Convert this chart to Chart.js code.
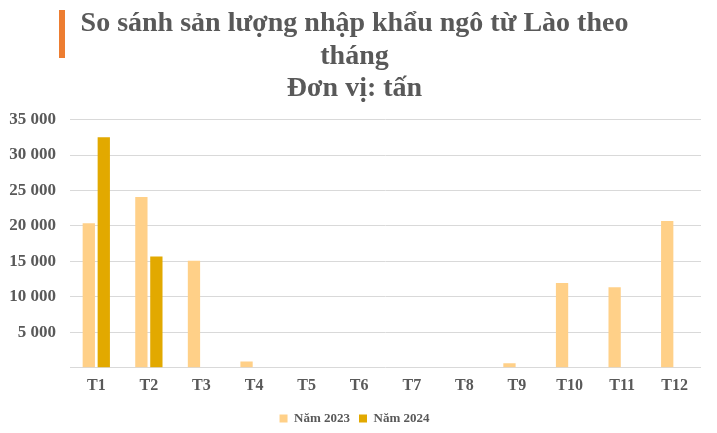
<!DOCTYPE html>
<html>
<head>
<meta charset="utf-8">
<script src="https://cdn.jsdelivr.net/npm/chart.js@4/dist/chart.umd.min.js"></script>
<style>
    html, body { margin: 0; padding: 0; background: #ffffff; }
    #wrap { position: relative; width: 717px; height: 433px; }
    #accent { position: absolute; left: 59px; top: 10px; width: 6px; height: 48px; background: #ed7d31; }
</style>
</head>
<body>
<div id="wrap">
    <canvas id="chart" width="717" height="433"></canvas>
    <div id="accent"></div>
</div>
<script>
const months = ["T1", "T2", "T3", "T4", "T5", "T6", "T7", "T8", "T9", "T10", "T11", "T12"];
const values2023 = [20400, 24100, 15100, 900, 0, 0, 0, 0, 650, 11950, 11350, 20700];
const values2024 = [32500, 15700, 0, 0, 0, 0, 0, 0, 0, 0, 0, 0];
const titleLines = ["So sánh sản lượng nhập khẩu ngô từ Lào theo", "tháng", "Đơn vị: tấn"];

const SERIF = "'Liberation Serif', 'Times New Roman', serif";
const TEXT_COLOR = "#595959";

function formatThousands(value) {
    return String(value).replace(/\B(?=(\d{3})+(?!\d))/g, " ");
}

new Chart(document.getElementById("chart"), {
    type: "bar",
    data: {
        labels: months,
        datasets: [
            {
                label: "Năm 2023",
                data: values2023,
                backgroundColor: "#ffd088",
                categoryPercentage: 0.57,
                barPercentage: 0.82,
            },
            {
                label: "Năm 2024",
                data: values2024,
                backgroundColor: "#e2a900",
                categoryPercentage: 0.57,
                barPercentage: 0.82,
            },
        ],
    },
    options: {
        responsive: false,
        animation: false,
        layout: { padding: { left: 8, right: 16, top: 4, bottom: -2 } },
        plugins: {
            title: {
                display: true,
                text: titleLines,
                color: TEXT_COLOR,
                font: { family: SERIF, size: 28, weight: "bold", lineHeight: 1.15 },
                padding: { top: 4, bottom: 15 },
            },
            legend: {
                position: "bottom",
                labels: {
                    color: TEXT_COLOR,
                    font: { family: SERIF, size: 13, weight: "bold" },
                    boxWidth: 8,
                    boxHeight: 8,
                    padding: 9,
                },
            },
            tooltip: { enabled: false },
        },
        scales: {
            x: {
                grid: { display: false, drawTicks: false },
                border: { display: false },
                ticks: {
                    color: TEXT_COLOR,
                    font: { family: SERIF, size: 16, weight: "bold" },
                    padding: 8,
                },
            },
            y: {
                min: 0,
                max: 35000,
                afterFit: (scale) => { scale.width = 62; },
                grid: { color: "#d9d9d9", drawTicks: false },
                border: { display: false },
                ticks: {
                    stepSize: 5000,
                    padding: 14,
                    color: TEXT_COLOR,
                    font: { family: SERIF, size: 17, weight: "bold" },
                    callback: (value) => (value === 0 ? "" : formatThousands(value)),
                },
            },
        },
    },
});
</script>
</body>
</html>
